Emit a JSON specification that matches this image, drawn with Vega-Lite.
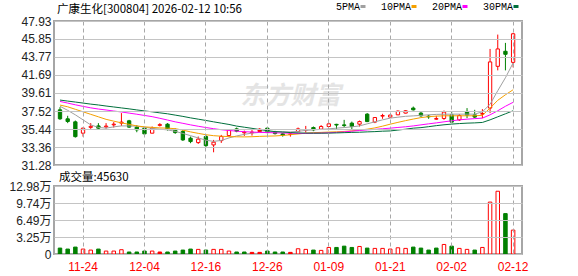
{
  "$schema": "https://vega.github.io/schema/vega-lite/v6.json",
  "autosize": {"type": "none"},
  "padding": {"left": 54, "top": 21, "right": 524, "bottom": 255},
  "background": "white",
  "bounds": "flush",
  "spacing": 21,
  "config": {
    "view": {"stroke": "#a6a6a6", "strokeWidth": 2, "fill": "transparent"},
    "axis": {"labelFont": "Liberation Sans, Noto Sans CJK SC", "labelFontSize": 12, "labelColor": "#222222", "ticks": false, "domain": false, "grid": true, "gridColor": "#c4c4c4", "gridOpacity": 1, "gridWidth": 1, "title": null, "labelOverlap": false, "zindex": 1},
    "axisX": {"gridColor": "#a8a8a8"},
    "axisY": {"labelOverlap": false, "labelFlush": false}
  },
  "datasets": {
    "k": [
      {"d":"11-19","o":37.66,"c":36.62,"h":37.97,"l":36.50,"k":"d","vol":11300,"v":"d","5PMA":38.07,"10PMA":38.21,"20PMA":38.63,"30PMA":38.79},
      {"d":"11-20","o":36.62,"c":36.31,"h":36.97,"l":36.12,"k":"d","vol":9400,"v":"d","5PMA":37.60,"10PMA":38.01,"20PMA":38.44,"30PMA":38.67},
      {"d":"11-21","o":36.27,"c":34.56,"h":36.42,"l":34.45,"k":"d","vol":13200,"v":"d","5PMA":37.08,"10PMA":37.72,"20PMA":38.24,"30PMA":38.56},
      {"d":"11-24","o":34.96,"c":35.54,"h":35.61,"l":34.56,"k":"u","vol":9400,"v":"u","5PMA":36.50,"10PMA":37.43,"20PMA":38.06,"30PMA":38.44},
      {"d":"11-25","o":35.63,"c":35.75,"h":36.12,"l":35.46,"k":"u","vol":7500,"v":"u","5PMA":35.92,"10PMA":37.14,"20PMA":37.89,"30PMA":38.32},
      {"d":"11-26","o":35.80,"c":35.54,"h":36.12,"l":35.46,"k":"d","vol":9400,"v":"d","5PMA":35.63,"10PMA":36.85,"20PMA":37.75,"30PMA":38.22},
      {"d":"11-27","o":35.69,"c":35.78,"h":36.12,"l":35.49,"k":"u","vol":5600,"v":"u","5PMA":35.54,"10PMA":36.56,"20PMA":37.64,"30PMA":38.10},
      {"d":"11-28","o":35.92,"c":36.00,"h":36.24,"l":35.61,"k":"u","vol":5600,"v":"u","5PMA":35.69,"10PMA":36.35,"20PMA":37.52,"30PMA":37.99},
      {"d":"12-01","o":36.12,"c":36.24,"h":37.28,"l":35.80,"k":"u","vol":8200,"v":"u","5PMA":35.80,"10PMA":36.15,"20PMA":37.41,"30PMA":37.88},
      {"d":"12-02","o":36.39,"c":35.66,"h":36.50,"l":35.57,"k":"d","vol":3800,"v":"d","5PMA":35.80,"10PMA":35.98,"20PMA":37.28,"30PMA":37.77},
      {"d":"12-03","o":35.66,"c":35.34,"h":35.89,"l":35.07,"k":"d","vol":3800,"v":"d","5PMA":35.77,"10PMA":35.80,"20PMA":37.15,"30PMA":37.65},
      {"d":"12-04","o":35.54,"c":34.88,"h":35.66,"l":34.76,"k":"d","vol":5600,"v":"d","5PMA":35.65,"10PMA":35.69,"20PMA":37.01,"30PMA":37.53},
      {"d":"12-05","o":34.96,"c":35.54,"h":35.73,"l":34.96,"k":"u","vol":5600,"v":"u","5PMA":35.51,"10PMA":35.63,"20PMA":36.87,"30PMA":37.43},
      {"d":"12-08","o":35.86,"c":35.95,"h":36.12,"l":35.73,"k":"u","vol":3800,"v":"f","5PMA":35.42,"10PMA":35.57,"20PMA":36.68,"30PMA":37.31},
      {"d":"12-09","o":36.00,"c":35.46,"h":36.12,"l":35.26,"k":"d","vol":3800,"v":"d","5PMA":35.34,"10PMA":35.54,"20PMA":36.48,"30PMA":37.20},
      {"d":"12-10","o":35.31,"c":35.03,"h":35.52,"l":34.88,"k":"d","vol":5600,"v":"d","5PMA":35.17,"10PMA":35.48,"20PMA":36.27,"30PMA":37.05},
      {"d":"12-11","o":35.15,"c":34.18,"h":35.34,"l":34.06,"k":"d","vol":7500,"v":"d","5PMA":34.93,"10PMA":35.31,"20PMA":36.10,"30PMA":36.90},
      {"d":"12-12","o":34.38,"c":33.99,"h":34.57,"l":33.80,"k":"d","vol":9400,"v":"d","5PMA":34.67,"10PMA":35.11,"20PMA":35.92,"30PMA":36.73},
      {"d":"12-15","o":33.87,"c":34.27,"h":34.57,"l":33.72,"k":"u","vol":8800,"v":"u","5PMA":34.41,"10PMA":34.94,"20PMA":35.76,"30PMA":36.58},
      {"d":"12-16","o":34.57,"c":33.52,"h":34.76,"l":33.37,"k":"d","vol":7500,"v":"d","5PMA":34.15,"10PMA":34.78,"20PMA":35.61,"30PMA":36.43},
      {"d":"12-17","o":33.60,"c":33.92,"h":34.18,"l":32.75,"k":"u","vol":8800,"v":"u","5PMA":34.01,"10PMA":34.67,"20PMA":35.48,"30PMA":36.27},
      {"d":"12-18","o":34.10,"c":34.57,"h":34.76,"l":33.83,"k":"u","vol":8800,"v":"u","5PMA":34.12,"10PMA":34.61,"20PMA":35.36,"30PMA":36.12},
      {"d":"12-19","o":34.68,"c":35.34,"h":35.42,"l":34.56,"k":"u","vol":5600,"v":"u","5PMA":34.41,"10PMA":34.56,"20PMA":35.27,"30PMA":35.97},
      {"d":"12-22","o":35.46,"c":35.19,"h":35.61,"l":35.07,"k":"d","vol":3800,"v":"d","5PMA":34.64,"10PMA":34.54,"20PMA":35.19,"30PMA":35.78},
      {"d":"12-23","o":35.00,"c":35.08,"h":35.26,"l":34.64,"k":"u","vol":3800,"v":"d","5PMA":34.82,"10PMA":34.53,"20PMA":35.13,"30PMA":35.65},
      {"d":"12-24","o":35.00,"c":35.08,"h":35.34,"l":34.68,"k":"u","vol":3100,"v":"f","5PMA":34.97,"10PMA":34.55,"20PMA":35.09,"30PMA":35.52},
      {"d":"12-25","o":35.14,"c":35.42,"h":35.54,"l":35.07,"k":"f","vol":3100,"v":"f","5PMA":35.05,"10PMA":34.59,"20PMA":35.05,"30PMA":35.38},
      {"d":"12-26","o":35.54,"c":35.03,"h":35.66,"l":34.96,"k":"d","vol":5600,"v":"d","5PMA":35.11,"10PMA":34.62,"20PMA":35.03,"30PMA":35.25},
      {"d":"12-29","o":35.11,"c":34.91,"h":35.23,"l":34.80,"k":"d","vol":3800,"v":"d","5PMA":35.14,"10PMA":34.64,"20PMA":35.00,"30PMA":35.14},
      {"d":"12-30","o":34.88,"c":34.73,"h":35.00,"l":34.56,"k":"d","vol":3800,"v":"d","5PMA":35.13,"10PMA":34.70,"20PMA":34.98,"30PMA":35.09},
      {"d":"12-31","o":34.80,"c":34.88,"h":35.03,"l":34.56,"k":"u","vol":3100,"v":"f","5PMA":35.11,"10PMA":34.78,"20PMA":34.96,"30PMA":35.03},
      {"d":"01-05","o":35.14,"c":35.46,"h":35.61,"l":35.14,"k":"u","vol":10000,"v":"u","5PMA":35.17,"10PMA":34.87,"20PMA":34.93,"30PMA":34.99},
      {"d":"01-06","o":35.31,"c":35.38,"h":35.80,"l":35.03,"k":"u","vol":8800,"v":"u","5PMA":35.28,"10PMA":34.96,"20PMA":34.93,"30PMA":34.97},
      {"d":"01-07","o":35.61,"c":35.34,"h":35.73,"l":35.19,"k":"d","vol":7500,"v":"d","5PMA":35.34,"10PMA":35.02,"20PMA":34.95,"30PMA":34.96},
      {"d":"01-08","o":35.42,"c":35.73,"h":35.89,"l":35.42,"k":"u","vol":6900,"v":"u","5PMA":35.40,"10PMA":35.05,"20PMA":34.97,"30PMA":34.96},
      {"d":"01-09","o":35.73,"c":36.04,"h":36.16,"l":35.69,"k":"u","vol":12500,"v":"u","5PMA":35.46,"10PMA":35.09,"20PMA":35.00,"30PMA":34.97},
      {"d":"01-12","o":35.98,"c":35.90,"h":36.04,"l":35.42,"k":"d","vol":12500,"v":"d","5PMA":35.54,"10PMA":35.12,"20PMA":35.05,"30PMA":34.99},
      {"d":"01-13","o":35.92,"c":35.84,"h":36.50,"l":35.65,"k":"d","vol":15000,"v":"d","5PMA":35.61,"10PMA":35.16,"20PMA":35.11,"30PMA":35.02},
      {"d":"01-14","o":36.12,"c":35.73,"h":36.30,"l":35.42,"k":"d","vol":12500,"v":"d","5PMA":35.69,"10PMA":35.23,"20PMA":35.19,"30PMA":35.05},
      {"d":"01-15","o":36.00,"c":36.30,"h":36.42,"l":35.73,"k":"u","vol":14400,"v":"u","5PMA":35.80,"10PMA":35.32,"20PMA":35.27,"30PMA":35.07},
      {"d":"01-16","o":37.16,"c":36.30,"h":37.28,"l":36.24,"k":"d","vol":11300,"v":"d","5PMA":36.04,"10PMA":35.42,"20PMA":35.34,"30PMA":35.11},
      {"d":"01-19","o":36.24,"c":36.77,"h":36.82,"l":36.12,"k":"u","vol":10700,"v":"u","5PMA":36.27,"10PMA":35.57,"20PMA":35.40,"30PMA":35.14},
      {"d":"01-20","o":36.93,"c":37.00,"h":37.20,"l":36.62,"k":"u","vol":10700,"v":"u","5PMA":36.50,"10PMA":35.77,"20PMA":35.47,"30PMA":35.19},
      {"d":"01-21","o":36.82,"c":37.05,"h":37.13,"l":36.77,"k":"u","vol":9400,"v":"u","5PMA":36.70,"10PMA":36.00,"20PMA":35.54,"30PMA":35.22},
      {"d":"01-22","o":37.08,"c":37.51,"h":37.58,"l":37.05,"k":"u","vol":11900,"v":"u","5PMA":36.81,"10PMA":36.21,"20PMA":35.62,"30PMA":35.32},
      {"d":"01-23","o":37.28,"c":37.55,"h":37.63,"l":37.24,"k":"u","vol":10700,"v":"u","5PMA":36.91,"10PMA":36.41,"20PMA":35.70,"30PMA":35.42},
      {"d":"01-26","o":37.86,"c":37.66,"h":38.04,"l":37.58,"k":"d","vol":13200,"v":"d","5PMA":36.96,"10PMA":36.59,"20PMA":35.80,"30PMA":35.54},
      {"d":"01-27","o":37.28,"c":36.97,"h":37.43,"l":36.85,"k":"d","vol":11300,"v":"d","5PMA":37.02,"10PMA":36.76,"20PMA":35.92,"30PMA":35.60},
      {"d":"01-28","o":36.93,"c":36.85,"h":37.08,"l":36.62,"k":"d","vol":7500,"v":"d","5PMA":37.08,"10PMA":36.87,"20PMA":36.04,"30PMA":35.71},
      {"d":"01-29","o":36.58,"c":36.65,"h":36.97,"l":36.50,"k":"u","vol":11300,"v":"d","5PMA":37.13,"10PMA":36.93,"20PMA":36.15,"30PMA":35.83},
      {"d":"01-30","o":36.66,"c":37.40,"h":37.58,"l":36.50,"k":"u","vol":18200,"v":"u","5PMA":37.15,"10PMA":36.97,"20PMA":36.27,"30PMA":35.93},
      {"d":"02-02","o":37.08,"c":36.24,"h":37.47,"l":36.12,"k":"d","vol":15000,"v":"d","5PMA":37.16,"10PMA":36.97,"20PMA":36.39,"30PMA":36.01},
      {"d":"02-03","o":36.50,"c":37.00,"h":37.16,"l":36.38,"k":"u","vol":10700,"v":"u","5PMA":37.16,"10PMA":36.97,"20PMA":36.50,"30PMA":36.07},
      {"d":"02-04","o":37.47,"c":37.05,"h":37.86,"l":36.70,"k":"d","vol":8800,"v":"u","5PMA":37.16,"10PMA":36.97,"20PMA":36.58,"30PMA":36.12},
      {"d":"02-05","o":37.08,"c":36.82,"h":37.66,"l":36.70,"k":"d","vol":7500,"v":"d","5PMA":37.16,"10PMA":36.97,"20PMA":36.64,"30PMA":36.15},
      {"d":"02-06","o":37.16,"c":37.23,"h":37.74,"l":36.70,"k":"u","vol":12500,"v":"u","5PMA":37.43,"10PMA":37.02,"20PMA":36.70,"30PMA":36.20},
      {"d":"02-09","o":37.86,"c":43.20,"h":44.70,"l":37.28,"k":"u","vol":99100,"v":"u","5PMA":38.30,"10PMA":37.86,"20PMA":37.08,"30PMA":36.50},
      {"d":"02-10","o":42.69,"c":44.70,"h":46.36,"l":42.22,"k":"u","vol":119800,"v":"u","5PMA":39.87,"10PMA":38.76,"20PMA":37.55,"30PMA":36.85},
      {"d":"02-11","o":44.43,"c":44.08,"h":45.40,"l":42.22,"k":"d","vol":77100,"v":"d","5PMA":41.37,"10PMA":39.40,"20PMA":38.07,"30PMA":37.20},
      {"d":"02-12","o":43.15,"c":46.45,"h":46.56,"l":42.57,"k":"u","vol":45630,"v":"u","5PMA":43.08,"10PMA":39.98,"20PMA":38.53,"30PMA":37.55}
    ]
  },
  "vconcat": [
    {
      "width": 468,
      "height": 144,
      "title": {"text": "广康生化[300804] 2026-02-12 10:56", "anchor": "start", "frame": "group", "font": "Noto Sans CJK SC", "fontSize": 11.5, "fontWeight": "normal", "color": "#000000", "offset": 0, "dx": 3},
      "data": {"name": "k"},
      "layer": [
        {
          "mark": {"type": "rule", "strokeWidth": 1},
          "encoding": {
            "x": {"field": "d", "type": "ordinal", "sort": null,
                  "scale": {"paddingInner": 0.3, "paddingOuter": 0.619, "align": 0.348},
                  "axis": {"values": ["11-24","12-04","12-16","12-26","01-09","01-21","02-02","02-12"], "labels": false, "grid": true, "gridDash": [4, 3], "zindex": 1}},
            "y": {"field": "l", "type": "quantitative",
                  "scale": {"domain": [31.28, 47.93], "nice": false, "zero": false},
                  "axis": {"values": [31.28,33.36,35.44,37.52,39.61,41.69,43.77,45.85,47.93], "tickCount": 9, "format": ".2f", "labelPadding": 3, "grid": true, "labelFlush": false, "labelOverlap": false, "zindex": 1}},
            "y2": {"field": "h"},
            "color": {"condition": {"test": "datum.k == 'd'", "value": "#008000"}, "value": "#ff0000"}
          }
        },
        {
          "mark": {"type": "bar", "strokeWidth": 1, "width": {"band": 0.62}},
          "encoding": {
            "x": {"field": "d", "type": "ordinal", "sort": null},
            "y": {"field": "o", "type": "quantitative", "axis": {"values": [31.28,33.36,35.44,37.52,39.61,41.69,43.77,45.85,47.93], "tickCount": 9, "format": ".2f", "labelPadding": 3, "grid": true, "labelFlush": false, "labelOverlap": false, "zindex": 1}},
            "y2": {"field": "c"},
            "fill": {"condition": [{"test": "datum.k == 'd'", "value": "#008000"}, {"test": "datum.k == 'f'", "value": "#ff0000"}], "value": "#ffffff"},
            "stroke": {"condition": {"test": "datum.k == 'd'", "value": "#008000"}, "value": "#ff0000"}
          }
        },
        {
          "transform": [{"fold": ["5PMA", "10PMA", "20PMA", "30PMA"], "as": ["ma", "val"]}],
          "mark": {"type": "line", "strokeWidth": 1},
          "encoding": {
            "x": {"field": "d", "type": "ordinal", "sort": null},
            "y": {"field": "val", "type": "quantitative", "axis": {"values": [31.28,33.36,35.44,37.52,39.61,41.69,43.77,45.85,47.93], "tickCount": 9, "format": ".2f", "labelPadding": 3, "grid": true, "labelFlush": false, "labelOverlap": false, "zindex": 1}},
            "color": {"field": "ma", "type": "nominal",
                      "scale": {"domain": ["5PMA", "10PMA", "20PMA", "30PMA"], "range": ["#a0a0a0", "#f5a000", "#ff00ff", "#006f3c"]},
                      "legend": {"orient": "none", "legendX": 304, "legendY": -19.5, "direction": "horizontal", "title": null,
                                 "labelFont": "Liberation Mono", "labelFontSize": 10, "labelColor": "#000000",
                                 "symbolType": "M-1,0H1", "symbolSize": 25, "symbolStrokeWidth": 3,
                                 "labelAlign": "right", "labelOffset": -8, "columnPadding": 8, "symbolOffset": 0}}
          }
        },
        {
          "transform": [{"filter": "datum.d == '12-31'"}],
          "mark": {"type": "text", "text": "东方财富", "font": "Noto Sans CJK SC", "fontSize": 25, "fontWeight": "bold", "fontStyle": "italic", "color": "#e4e4e4"},
          "encoding": {
            "x": {"field": "d", "type": "ordinal", "sort": null},
            "y": {"datum": 39.3, "axis": {"values": [31.28,33.36,35.44,37.52,39.61,41.69,43.77,45.85,47.93], "tickCount": 9, "format": ".2f", "labelPadding": 3, "grid": true, "labelFlush": false, "labelOverlap": false, "zindex": 1}}
          }
        }
      ]
    },
    {
      "width": 468,
      "height": 68,
      "title": {"text": "成交量:45630", "anchor": "start", "frame": "group", "font": "Noto Sans CJK SC", "fontSize": 11.5, "fontWeight": "normal", "color": "#000000", "offset": -3, "dx": 5},
      "data": {"name": "k"},
      "mark": {"type": "bar", "strokeWidth": 1, "width": {"band": 0.65}},
      "encoding": {
        "x": {"field": "d", "type": "ordinal", "sort": null,
              "scale": {"paddingInner": 0.3, "paddingOuter": 0.619, "align": 0.348},
              "axis": {"values": ["11-24","12-04","12-16","12-26","01-09","01-21","02-02","02-12"], "labelColor": "#ff0000", "labelAngle": 0, "labelPadding": 7, "grid": true, "gridDash": [4, 3], "zindex": 1}},
        "y": {"field": "vol", "type": "quantitative",
              "scale": {"domain": [0, 129800], "nice": false},
              "axis": {"values": [0, 32450, 64900, 97350, 129800], "tickCount": 5, "labelExpr": "datum.value == 0 ? '0' : format(round(datum.value / 100 + 0.01) / 100, '.2f') + '万'", "labelPadding": 3, "grid": true, "labelFlush": false, "labelOverlap": false, "zindex": 1}},
        "fill": {"condition": [{"test": "datum.v == 'd'", "value": "#008000"}, {"test": "datum.v == 'f'", "value": "#ff0000"}], "value": "#ffffff"},
        "stroke": {"condition": {"test": "datum.v == 'd'", "value": "#008000"}, "value": "#ff0000"}
      }
    }
  ]
}
